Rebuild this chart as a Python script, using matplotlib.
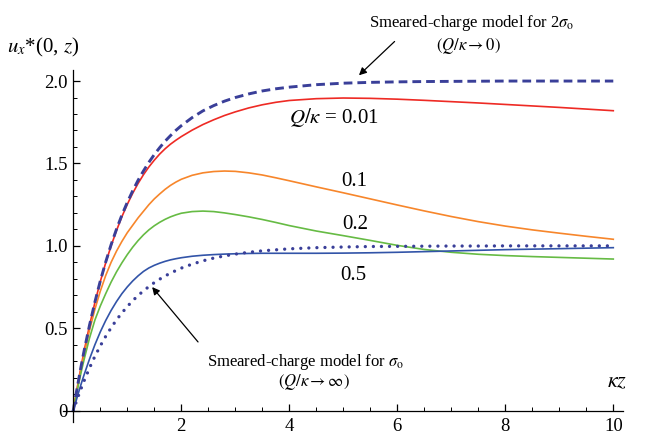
import matplotlib
matplotlib.use("Agg")
import matplotlib.pyplot as plt

plt.rcParams['font.family'] = ['Liberation Serif', 'DejaVu Serif']
plt.rcParams['mathtext.fontset'] = 'stix'
plt.rcParams['lines.scale_dashes'] = False

# kappa*z sample positions
kz = [0, 0.05, 0.1, 0.15, 0.2, 0.3, 0.4, 0.5, 0.6, 0.7, 0.8, 0.9, 1.0, 1.1, 1.2, 1.3,
      1.4, 1.5, 1.6, 1.7, 1.8, 1.9, 2.0, 2.2, 2.4, 2.6, 2.8, 3.0, 3.25, 3.5, 3.75,
      4.0, 4.5, 5.0, 5.5, 6.0, 6.5, 7.0, 7.5, 8.0, 8.5, 9.0, 9.5, 10.0]

# Smeared-charge model for 2 sigma_o (Q/kappa -> 0)
smeared_2sigma = [0, 0.098, 0.19, 0.279, 0.363, 0.518, 0.659, 0.787, 0.902, 1.007,
                  1.101, 1.187, 1.264, 1.334, 1.398, 1.455, 1.507, 1.554, 1.596, 1.635,
                  1.669, 1.701, 1.729, 1.778, 1.819, 1.851, 1.878, 1.900, 1.922, 1.940,
                  1.953, 1.963, 1.978, 1.987, 1.992, 1.995, 1.997, 1.998, 1.999, 2.0,
                  2.0, 2.0, 2.0, 2.0]
# Smeared-charge model for sigma_o (Q/kappa -> inf)
smeared_sigma = [0, 0.049, 0.095, 0.139, 0.181, 0.259, 0.33, 0.393, 0.451, 0.503,
                 0.551, 0.593, 0.632, 0.667, 0.699, 0.727, 0.753, 0.777, 0.798, 0.817,
                 0.835, 0.85, 0.865, 0.889, 0.909, 0.926, 0.939, 0.95, 0.961, 0.97,
                 0.976, 0.982, 0.989, 0.993, 0.996, 0.997, 0.998, 0.999, 0.999, 1.0,
                 1.0, 1.0, 1.0, 1.0]
# Q/kappa = 0.01
q001 = [0, 0.098, 0.19, 0.278, 0.362, 0.516, 0.656, 0.783, 0.897, 1.0, 1.093, 1.177,
        1.252, 1.319, 1.379, 1.432, 1.479, 1.52, 1.557, 1.589, 1.617, 1.641, 1.663,
        1.702, 1.736, 1.765, 1.791, 1.813, 1.837, 1.856, 1.871, 1.882, 1.893, 1.897,
        1.895, 1.89, 1.883, 1.875, 1.867, 1.858, 1.849, 1.84, 1.83, 1.82]
# Q/kappa = 0.1
q01 = [0, 0.09, 0.178, 0.262, 0.342, 0.488, 0.615, 0.725, 0.82, 0.9, 0.968, 1.027,
       1.08, 1.125, 1.17, 1.21, 1.25, 1.285, 1.315, 1.343, 1.367, 1.387, 1.404, 1.428,
       1.443, 1.451, 1.454, 1.452, 1.443, 1.43, 1.413, 1.395, 1.358, 1.322, 1.285,
       1.248, 1.212, 1.178, 1.147, 1.12, 1.097, 1.077, 1.058, 1.04]
# Q/kappa = 0.2
q02 = [0, 0.085, 0.165, 0.24, 0.31, 0.44, 0.55, 0.635, 0.71, 0.78, 0.842, 0.897, 0.947,
       0.992, 1.032, 1.067, 1.097, 1.122, 1.143, 1.161, 1.176, 1.188, 1.198, 1.208,
       1.211, 1.208, 1.2, 1.19, 1.176, 1.16, 1.142, 1.123, 1.09, 1.062, 1.033, 1.003,
       0.978, 0.961, 0.949, 0.941, 0.935, 0.93, 0.925, 0.92]
# Q/kappa = 0.5
q05 = [0, 0.057, 0.113, 0.167, 0.218, 0.313, 0.4, 0.478, 0.547, 0.608, 0.662, 0.71,
       0.751, 0.787, 0.818, 0.845, 0.866, 0.882, 0.895, 0.906, 0.915, 0.922, 0.928,
       0.937, 0.943, 0.947, 0.95, 0.952, 0.954, 0.955, 0.955, 0.955, 0.955, 0.956,
       0.958, 0.961, 0.965, 0.969, 0.973, 0.977, 0.98, 0.983, 0.986, 0.989]

x_ticks = [0, 2, 4, 6, 8, 10]
x_ticklabels = ['', '2', '4', '6', '8', '10']
y_ticks = [0, 0.5, 1.0, 1.5, 2.0]
y_ticklabels = ['0', '0.5', '1.0', '1.5', '2.0']

navy = '#3a3f99'
red = '#ee2a24'
orange = '#f7862b'
green = '#66bb44'
blue = '#3254a8'

fig = plt.figure(figsize=(6.46, 4.34), dpi=100)
ax = fig.add_axes([0.098, 0.0283, 0.8664, 0.8104])
ax.set_xlim(-0.185, 10.18)
ax.set_ylim(-0.067, 2.067)

ax.plot(kz, q001, color=red, lw=1.2)
ax.plot(kz, q01, color=orange, lw=1.2)
ax.plot(kz, q02, color=green, lw=1.2)
ax.plot(kz, q05, color=blue, lw=1.2)
ax.plot(kz, smeared_2sigma, color=navy, lw=2.1, dashes=(6.3, 3.6))
ax.plot(kz, smeared_sigma, color=navy, lw=2.4, dashes=(0.01, 5.8),
        dash_capstyle='round')

for s in ['top', 'right']:
    ax.spines[s].set_visible(False)
ax.spines['left'].set_position(('data', 0))
ax.spines['bottom'].set_position(('data', 0))
ax.spines['left'].set_bounds(-0.067, 2.067)
ax.spines['bottom'].set_bounds(-0.185, 10.18)
for s in ['left', 'bottom']:
    ax.spines[s].set_linewidth(0.9)

ax.set_xticks(x_ticks)
ax.set_xticklabels(x_ticklabels)
ax.set_yticks(y_ticks)
ax.set_yticklabels(y_ticklabels)
ax.set_xticks([v * 0.5 for v in range(1, 21) if v % 4 != 0], minor=True)
ax.set_yticks([v * 0.1 for v in range(1, 21) if v % 5 != 0], minor=True)
ax.tick_params(which='major', direction='in', length=5, width=0.9, labelsize=13.5)
ax.tick_params(which='minor', direction='in', length=3, width=0.7)
ax.tick_params(axis='x', which='major', pad=5)
ax.tick_params(axis='y', which='major', pad=4)

# axis labels
fig.text(7 / 646, 1 - 52 / 434, r'$u_x$*(0, $z$)', fontsize=15, ha='left',
         va='baseline')
ax.text(9.88, 0.14, r'$\kappa z$', fontsize=16, ha='left', va='baseline')

# curve labels
ax.text(4.82, 1.78, r'$Q/\kappa$ = 0.01', fontsize=15, ha='center', va='center')
ax.text(5.2, 1.39, '0.1', fontsize=15, ha='center', va='center')
ax.text(5.22, 1.13, '0.2', fontsize=15, ha='center', va='center')
ax.text(5.18, 0.82, '0.5', fontsize=15, ha='center', va='center')

# annotations
ax.annotate('', xy=(5.29, 2.035), xytext=(5.95, 2.24), annotation_clip=False,
            arrowprops=dict(arrowstyle='-|>', lw=0.9, color='black',
                            mutation_scale=11, shrinkA=0, shrinkB=0))
ax.text(7.38, 2.35, r'Smeared-charge model for 2$\sigma_{\rm o}$', fontsize=12,
        ha='center', va='center', clip_on=False)
ax.text(7.31, 2.215, r'$(Q/\kappa \rightarrow 0)$', fontsize=12, ha='center',
        va='center', clip_on=False)

ax.annotate('', xy=(1.46, 0.75), xytext=(2.31, 0.417),
            arrowprops=dict(arrowstyle='-|>', lw=0.9, color='black',
                            mutation_scale=11, shrinkA=0, shrinkB=0))
ax.text(4.31, 0.295, r'Smeared-charge model for $\sigma_{\rm o}$', fontsize=12,
        ha='center', va='center')
ax.text(4.46, 0.175, r'$(Q/\kappa \rightarrow \infty)$', fontsize=12, ha='center',
        va='center')

fig.savefig('out.png', dpi=100)
